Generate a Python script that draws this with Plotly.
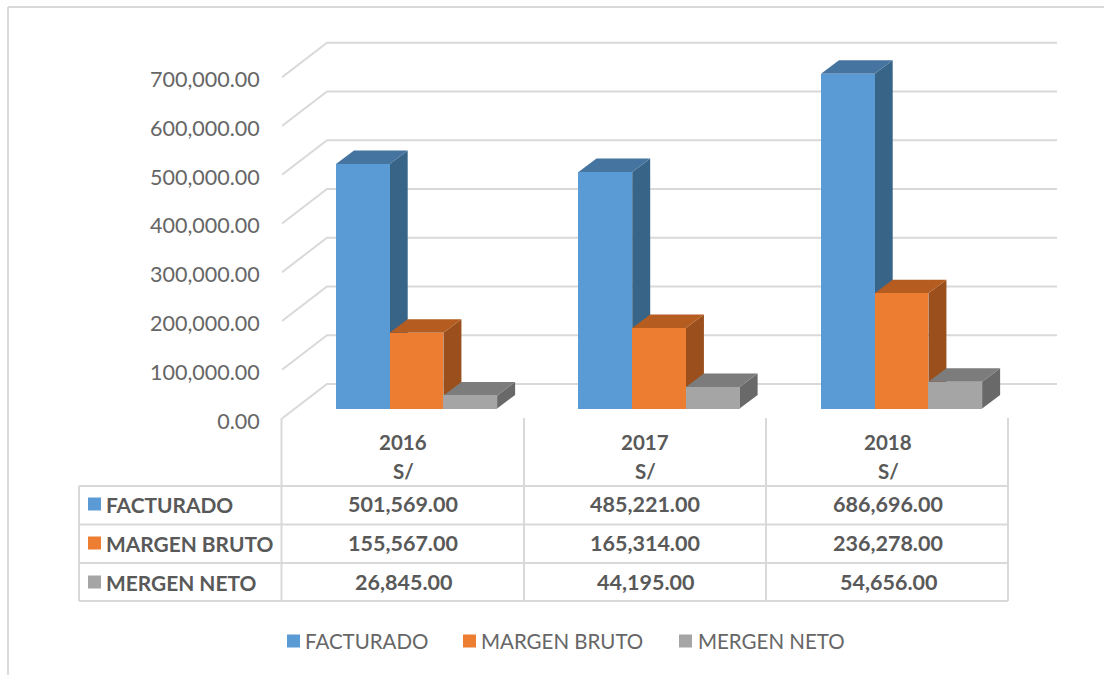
import plotly.graph_objects as go

# ---- data ----
years = ["2016", "2017", "2018"]
series_names = ["FACTURADO", "MARGEN BRUTO", "MERGEN NETO"]
facturado = [501569, 485221, 686696]
margen_bruto = [155567, 165314, 236278]
mergen_neto = [26845, 44195, 54656]
y_ticks = [0, 100000, 200000, 300000, 400000, 500000, 600000, 700000]
unit_label = "S/"

# ---- style ----
W, H = 1104, 675
front = ["#5B9BD5", "#ED7D31", "#A5A5A5"]
top_c = ["#4674A0", "#B55D21", "#7C7C7C"]
side_c = ["#386488", "#9A4F1C", "#696969"]
grid = "#D9D9D9"
txt = "#595959"
txt_light = "#666666"
FONT = "Lato"

PX_PER_UNIT = 0.4875 / 1000
CAT_PX = 242.5
X0_PX, X1_PX = 282, 1057
Y0_PX = 418.5
BAR_W = 0.2215
BAR_START = 0.3334
BAR_FLOOR = 10 / PX_PER_UNIT      # floor of the bars relative to the front plane
BAR_DX, BAR_DY = 18 / CAT_PX, 13.5 / PX_PER_UNIT
WALL_DX, WALL_DY = 45 / CAT_PX, 34.5 / PX_PER_UNIT

# the tick labels sit a little lower than the front plane of the floor
TICK_PX_PER_UNIT = 0.4889 / 1000
TICK_Y0_PX = 421.5

y_range = [-(H - Y0_PX) / PX_PER_UNIT, Y0_PX / PX_PER_UNIT]
y_tick_range = [-(H - TICK_Y0_PX) / TICK_PX_PER_UNIT, TICK_Y0_PX / TICK_PX_PER_UNIT]
x_range = [0, (X1_PX - X0_PX) / CAT_PX]
xdom = [X0_PX / W, X1_PX / W]


def px(x):
    return x / W


def py(y):
    return 1 - y / H


fig = go.Figure()

# back wall + diagonal gridlines (drawn on the base axes)
for t in y_ticks:
    fig.add_trace(go.Scatter(
        x=[0, WALL_DX, x_range[1]],
        y=[t, t + WALL_DY, t + WALL_DY],
        mode="lines", line=dict(color=grid, width=2),
        showlegend=False, hoverinfo="skip", xaxis="x", yaxis="y"))

all_series = [facturado, margen_bruto, mergen_neto]

# depth faces of each bar, painted in order on the base axes
for c in range(len(years)):
    for s, vals in enumerate(all_series):
        l = c + BAR_START + (s - 0.5) * BAR_W
        r = l + BAR_W
        f = BAR_FLOOR
        v = vals[c] + f
        fig.add_trace(go.Scatter(
            x=[r, r + BAR_DX, r + BAR_DX, r, r],
            y=[f, f + BAR_DY, v + BAR_DY, v, f],
            mode="lines", fill="toself", fillcolor=side_c[s],
            line=dict(width=0, color=side_c[s]),
            showlegend=False, hoverinfo="skip", xaxis="x", yaxis="y"))
        fig.add_trace(go.Scatter(
            x=[l, r, r + BAR_DX, l + BAR_DX, l],
            y=[v, v, v + BAR_DY, v + BAR_DY, v],
            mode="lines", fill="toself", fillcolor=top_c[s],
            line=dict(width=0, color=top_c[s]),
            showlegend=False, hoverinfo="skip", xaxis="x", yaxis="y"))

# front faces on an overlay axis pair so they sit above the depth faces
for s, vals in enumerate(all_series):
    fig.add_trace(go.Bar(
        x=[c + BAR_START + s * BAR_W for c in range(len(years))],
        y=vals, base=[BAR_FLOOR] * len(vals), width=BAR_W,
        name=series_names[s], marker=dict(color=front[s], line=dict(width=0)),
        showlegend=False, xaxis="x2", yaxis="y2"))

# invisible carrier for the value-axis tick labels
fig.add_trace(go.Scatter(
    x=[0] * len(y_ticks), y=y_ticks, mode="markers", marker=dict(opacity=0),
    showlegend=False, hoverinfo="skip", xaxis="x", yaxis="y3"))

# table grid
shapes = []


def hline(y, x0, x1):
    shapes.append(dict(type="line", xref="paper", yref="paper",
                       x0=px(x0), x1=px(x1), y0=py(y), y1=py(y),
                       line=dict(color=grid, width=2)))


def vline(x, y0, y1):
    shapes.append(dict(type="line", xref="paper", yref="paper",
                       x0=px(x), x1=px(x), y0=py(y0), y1=py(y1),
                       line=dict(color=grid, width=2)))


for y in [486, 524.5, 563, 601]:
    hline(y, 79, 1008)
vline(79, 486, 601)
for x in [281.5, 524, 766, 1008]:
    vline(x, 418, 601)

# chart frame
hline(7, 8, 1104)
vline(8, 7, 675)

annotations = []


def label(x, y, text, size=20.5, bold=True, xanchor="center", color=txt):
    annotations.append(dict(
        xref="paper", yref="paper", x=px(x), y=py(y), text=f"<b>{text}</b>" if bold else text,
        showarrow=False, xanchor=xanchor, yanchor="middle",
        font=dict(family=FONT, size=size, color=color)))


def swatch(x0, x1, yc, color):
    shapes.append(dict(type="rect", xref="paper", yref="paper",
                       x0=px(x0), x1=px(x1), y0=py(yc + 6.5), y1=py(yc - 6.5),
                       fillcolor=color, line=dict(width=0)))


row_y = [504, 543, 582]
col_x = [403, 645, 888]
for c, yr in enumerate(years):
    label(col_x[c], 442, yr)
    label(col_x[c], 471, unit_label)
    for s, vals in enumerate(all_series):
        label(col_x[c], row_y[s], f"{vals[c]:,.2f}", size=21.5)
for s, n in enumerate(series_names):
    label(104, row_y[s], n, size=20.9, xanchor="left")
    swatch(88, 101, row_y[s], front[s])

# legend row
legend_swatch_x = [287, 463, 679]
legend_text_x = [302.5, 478.5, 695.5]
for s, n in enumerate(series_names):
    swatch(legend_swatch_x[s], legend_swatch_x[s] + 13, 641, front[s])
    label(legend_text_x[s], 641, n, size=20.5, bold=False, xanchor="left", color=txt_light)

fig.update_layout(
    width=W, height=H, margin=dict(l=0, r=0, t=0, b=0),
    paper_bgcolor="white", plot_bgcolor="white",
    barmode="overlay", bargap=0,
    font=dict(family=FONT, color=txt),
    shapes=shapes, annotations=annotations,
    showlegend=False,
    xaxis=dict(domain=xdom, range=x_range, visible=False, fixedrange=True),
    xaxis2=dict(domain=xdom, range=x_range, visible=False, overlaying="x", fixedrange=True),
    yaxis=dict(domain=[0, 1], range=y_range, visible=False, fixedrange=True),
    yaxis2=dict(domain=[0, 1], range=y_range, visible=False, overlaying="y", fixedrange=True),
    yaxis3=dict(domain=[0, 1], range=y_tick_range, overlaying="y", anchor="x",
                tickvals=y_ticks, tickformat=",.2f",
                showgrid=False, zeroline=False, showline=False, ticks="outside",
                ticklen=17, tickcolor="rgba(0,0,0,0)", fixedrange=True,
                tickfont=dict(family=FONT, size=21.5, color=txt_light)),
)

fig.write_html("out.html", post_script="document.body.style.margin='0';", config=dict(displayModeBar=False))
